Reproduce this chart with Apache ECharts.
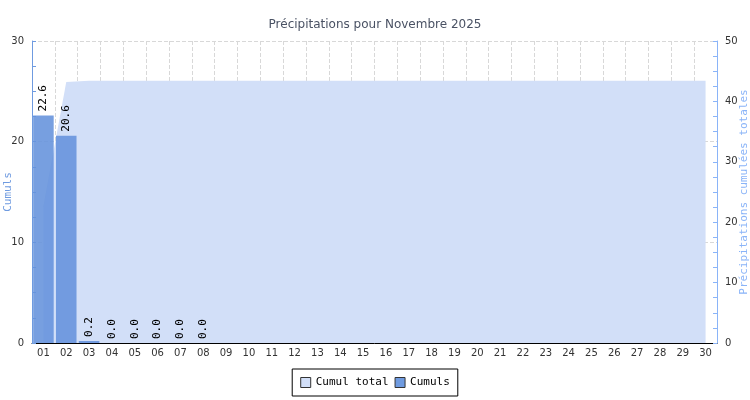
<!DOCTYPE html>
<html><head><meta charset="utf-8">
<script src="https://cdn.jsdelivr.net/npm/echarts@6/dist/echarts.min.js"></script>
<style>html,body{margin:0;padding:0;background:#fff}#c{width:750px;height:400px}</style>
</head><body><div id="c"></div>
<script>
var days = ['01','02','03','04','05','06','07','08','09','10','11','12','13','14','15','16','17','18','19','20','21','22','23','24','25','26','27','28','29','30'];
var cumuls = [22.6,20.6,0.2,0.0,0.0,0.0,0.0,0.0,null,null,null,null,null,null,null,null,null,null,null,null,null,null,null,null,null,null,null,null,null,null];
var cumulTotal = [22.6,43.2,43.4,43.4,43.4,43.4,43.4,43.4,43.4,43.4,43.4,43.4,43.4,43.4,43.4,43.4,43.4,43.4,43.4,43.4,43.4,43.4,43.4,43.4,43.4,43.4,43.4,43.4,43.4,43.4];
var titleText = 'Précipitations pour Novembre 2025';

var mono = 'DejaVu Sans Mono';
var chart = echarts.init(document.getElementById('c'));
chart.setOption({
  animation: false,
  title: {text: titleText, left: 'center', top: 14, textStyle: {fontFamily: 'DejaVu Sans', fontSize: 12, fontWeight: 'normal', color: '#4a5264'}},
  legend: {
    bottom: 4, left: 'center', padding: [8, 8], borderColor: '#000', borderWidth: 1,
    itemWidth: 10, itemHeight: 10, itemGap: 6,
    textStyle: {fontFamily: mono, fontSize: 11, color: '#000'},
    data: [
      {name: 'Cumul total', icon: 'rect', itemStyle: {color: '#d2dff8', borderColor: '#333', borderWidth: 1}},
      {name: 'Cumuls', icon: 'rect', itemStyle: {color: '#6f9be0', borderColor: '#333', borderWidth: 1}}
    ]
  },
  grid: {left: 32, right: 33, top: 41, bottom: 57, containLabel: false, outerBoundsMode: 'none'},
  xAxis: {
    type: 'category', data: days,
    axisLine: {lineStyle: {color: '#000'}},
    axisTick: {inside: true, length: 4, lineStyle: {color: '#000'}},
    axisLabel: {fontSize: 10, color: '#333', margin: 5, fontFamily: 'DejaVu Sans'},
    splitLine: {show: true, lineStyle: {type: 'dashed', color: '#d8d8d8'}}
  },
  yAxis: [
    {type: 'value', min: 0, max: 30, interval: 10, position: 'left',
     name: 'Cumuls', nameLocation: 'middle', nameGap: 18, nameRotate: 90, nameMoveOverlap: false,
     nameTextStyle: {color: '#6f9be0', fontFamily: mono, fontSize: 11},
     axisLine: {show: true, lineStyle: {color: '#6f9be0'}},
     axisTick: {show: true, inside: true, length: 4, lineStyle: {color: '#6f9be0'}},
     minorTick: {show: true, splitNumber: 4, length: 4, lineStyle: {color: '#6f9be0'}},
     axisLabel: {fontSize: 10, color: '#333', margin: 8, fontFamily: 'DejaVu Sans'},
     splitLine: {lineStyle: {type: 'dashed', color: '#d8d8d8'}}},
    {type: 'value', min: 0, max: 50, interval: 10, position: 'right',
     name: 'Précipitations cumulées totales', nameLocation: 'middle', nameGap: 22, nameRotate: 90, nameMoveOverlap: false,
     nameTextStyle: {color: '#8ab4f8', fontFamily: mono, fontSize: 11},
     axisLine: {show: true, lineStyle: {color: '#8ab4f8'}},
     axisTick: {show: true, inside: true, length: 4, lineStyle: {color: '#8ab4f8'}},
     minorTick: {show: true, splitNumber: 4, length: 4, lineStyle: {color: '#8ab4f8'}},
     axisLabel: {fontSize: 10, color: '#333', margin: 8, fontFamily: 'DejaVu Sans'},
     splitLine: {show: false}}
  ],
  series: [
    {name: 'Cumul total', type: 'line', yAxisIndex: 1, data: cumulTotal, symbol: 'none', z: 1,
     lineStyle: {width: 0, color: '#d2dff8'}, itemStyle: {color: '#d2dff8'},
     areaStyle: {color: '#d2dff8', opacity: 1}},
    {name: 'Cumuls', type: 'bar', yAxisIndex: 0, data: cumuls, barCategoryGap: '10%', z: 2,
     itemStyle: {color: 'rgba(100,146,220,0.88)'}},
    {name: 'labels', type: 'custom', yAxisIndex: 0, silent: true, z: 5,
     data: cumuls.map(function (v, i) { return [i, v]; }),
     renderItem: function (params, api) {
       var v = api.value(1);
       if (v === null || v === undefined || isNaN(v)) return null;
       var pt = api.coord([api.value(0), v]);
       return {type: 'text', x: pt[0], y: pt[1] - 4, rotation: Math.PI / 2,
               style: {text: Number(v).toFixed(1), fill: '#000', font: '11px "DejaVu Sans Mono"', align: 'left', verticalAlign: 'middle'}};
     }}
  ]
});
</script></body></html>
